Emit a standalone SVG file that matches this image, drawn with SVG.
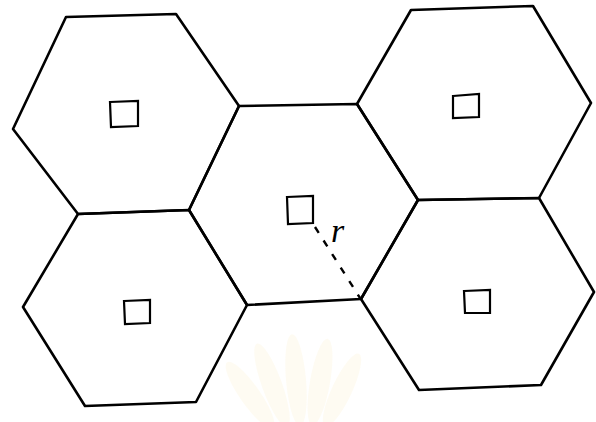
<svg xmlns="http://www.w3.org/2000/svg" width="596" height="422" viewBox="0 0 596 422">
<style>
.hex{fill:none;stroke:#000;stroke-width:2.6;stroke-linejoin:round}
.sq{fill:none;stroke:#000;stroke-width:2.2}
.dash{stroke:#000;stroke-width:2.4;stroke-dasharray:7,9;fill:none}
.lbl{font-family:"Liberation Serif",serif;font-style:italic;font-size:34px;fill:#000}
.wm{fill:#fcf6e2;opacity:0.45}
</style>
<rect width="596" height="422" fill="#fff"/>
<g id="watermark">
<ellipse class="wm" cx="250" cy="395" rx="10" ry="40" transform="rotate(-35 250 395)"/>
<ellipse class="wm" cx="272" cy="385" rx="10" ry="44" transform="rotate(-20 272 385)"/>
<ellipse class="wm" cx="296" cy="380" rx="10" ry="46" transform="rotate(-5 296 380)"/>
<ellipse class="wm" cx="320" cy="382" rx="10" ry="44" transform="rotate(10 320 382)"/>
<ellipse class="wm" cx="342" cy="390" rx="10" ry="40" transform="rotate(25 342 390)"/>
</g>
<g id="cell-top-left">
<polygon class="hex" points="66,17 176,14 239,106 189,210 78,214 13,129"/>
<polygon class="sq" points="110,102 138,101 138,126 111,127"/>
</g>
<g id="cell-top-right">
<polygon class="hex" points="411,10 533,6 591,103 539,198 418,200 357,104"/>
<polygon class="sq" points="453,96 479,94 479,117 453,118"/>
</g>
<g id="cell-center">
<polygon class="hex" points="239,106 357,104 418,200 361,299 247,305 189,210"/>
<polygon class="sq" points="287,197 313,196 313,223 288,224"/>
</g>
<g id="cell-bottom-left">
<polygon class="hex" points="78,214 189,210 247,305 196,402 85,406 23,307"/>
<polygon class="sq" points="124,301 150,300 150,323 125,324"/>
</g>
<g id="cell-bottom-right">
<polygon class="hex" points="418,200 539,198 594,292 541,385 419,390 361,299"/>
<polygon class="sq" points="464,291 490,290 490,313 465,313"/>
</g>
<g id="connectors">
<line class="dash" x1="315" y1="227" x2="360" y2="298"/>
</g>
<text class="lbl" x="331" y="242">r</text>
</svg>
